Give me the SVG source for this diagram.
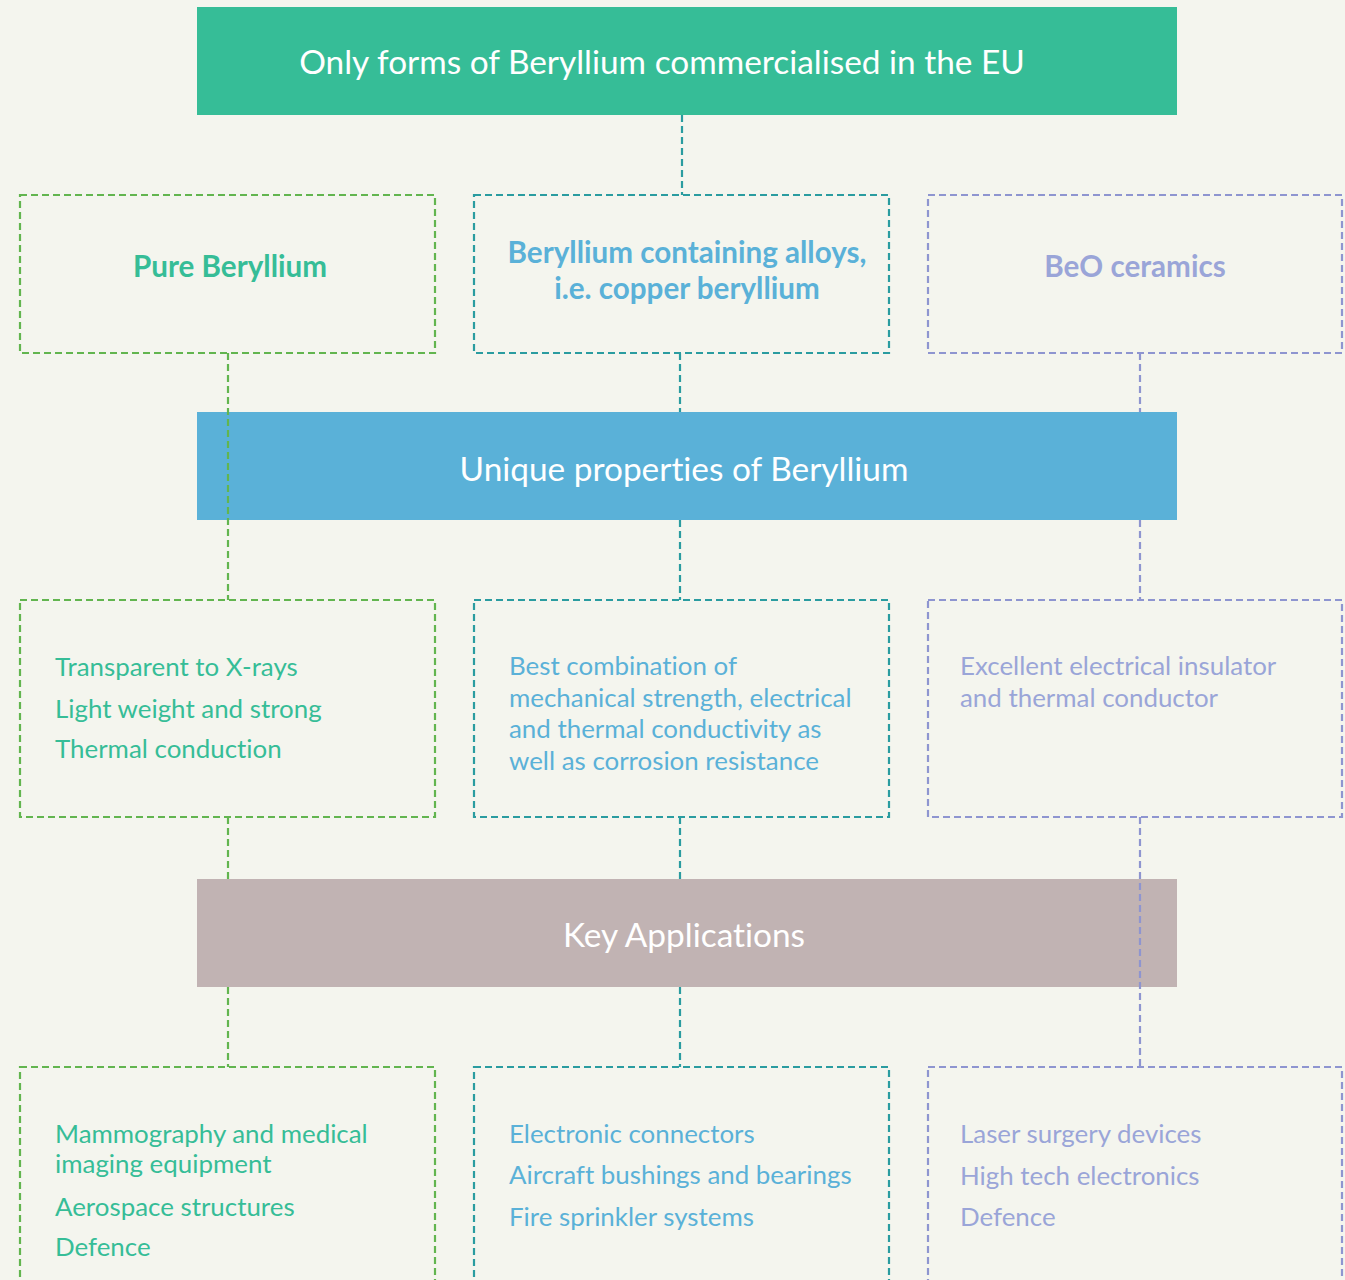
<svg xmlns="http://www.w3.org/2000/svg" width="1345" height="1280" viewBox="0 0 1345 1280">
<style>
.bg{fill:#f4f5ee}
.box{fill:none;stroke-width:2.2;stroke-dasharray:7 4}
.g{stroke:#62b54f}
.t{stroke:#2a9ca0}
.p{stroke:#8e95d0}
text{font-variant-ligatures:none}
.ban{font-family:Lato,"Open Sans",sans-serif;font-size:33.4px;fill:#ffffff;text-anchor:middle}
.hd{font-family:Lato,"Open Sans",sans-serif;font-size:29.6px;font-weight:bold;text-anchor:middle}
.tx{font-family:Lato,"Open Sans",sans-serif;font-size:25.9px}
.cg{fill:#36bd97}
.cb{fill:#5ab1d8}
.cp{fill:#9aa5d8}
.ln{fill:none;stroke-width:2.2;stroke-dasharray:7 4}
</style>
<rect class="bg" x="0" y="0" width="1345" height="1280"/>

<g id="banner-forms">
<rect x="197" y="7" width="980" height="108" fill="#36bd97"/>
<text class="ban" x="662" y="74">Only forms of Beryllium commercialised in the EU</text>
</g>
<g id="banner-properties">
<rect x="197" y="412" width="980" height="108" fill="#5ab1d8"/>
<text class="ban" x="684" y="481">Unique properties of Beryllium</text>
</g>
<g id="banner-applications">
<rect x="197" y="879" width="980" height="108" fill="#c1b3b3"/>
<text class="ban" x="684" y="947">Key Applications</text>
</g>

<g id="connectors">
<line class="ln t" x1="682" y1="115" x2="682" y2="195"/>
<line class="ln g" x1="228" y1="353" x2="228" y2="600"/>
<line class="ln t" x1="680" y1="353" x2="680" y2="412"/>
<line class="ln t" x1="680" y1="520" x2="680" y2="600"/>
<line class="ln p" x1="1140" y1="353" x2="1140" y2="412"/>
<line class="ln p" x1="1140" y1="520" x2="1140" y2="600"/>
<line class="ln g" x1="228" y1="817" x2="228" y2="879"/>
<line class="ln g" x1="228" y1="987" x2="228" y2="1067"/>
<line class="ln t" x1="680" y1="817" x2="680" y2="879"/>
<line class="ln t" x1="680" y1="987" x2="680" y2="1067"/>
<line class="ln p" x1="1140" y1="817" x2="1140" y2="1067"/>
</g>

<g id="pure-beryllium">
<rect class="box g" x="20" y="195" width="415" height="158"/>
<text class="hd cg" x="230" y="277">Pure Beryllium</text>
</g>
<g id="alloys">
<rect class="box t" x="474" y="195" width="415" height="158"/>
<text class="hd cb" x="687" y="263">Beryllium containing alloys,</text>
<text class="hd cb" x="687" y="299">i.e. copper beryllium</text>
</g>
<g id="beo">
<rect class="box p" x="928" y="195" width="414" height="158"/>
<text class="hd cp" x="1135" y="277">BeO ceramics</text>
</g>

<g id="props-pure">
<rect class="box g" x="20" y="600" width="415" height="217"/>
<text class="tx cg" x="55" y="676">Transparent to X-rays</text>
<text class="tx cg" x="55" y="718">Light weight and strong</text>
<text class="tx cg" x="55" y="758">Thermal conduction</text>
</g>
<g id="props-alloys">
<rect class="box t" x="474" y="600" width="415" height="217"/>
<text class="tx cb" x="509" y="675">Best combination of</text>
<text class="tx cb" x="509" y="707">mechanical strength, electrical</text>
<text class="tx cb" x="509" y="738">and thermal conductivity as</text>
<text class="tx cb" x="509" y="770">well as corrosion resistance</text>
</g>
<g id="props-beo">
<rect class="box p" x="928" y="600" width="414" height="217"/>
<text class="tx cp" x="960" y="675">Excellent electrical insulator</text>
<text class="tx cp" x="960" y="707">and thermal conductor</text>
</g>

<g id="apps-pure">
<rect class="box g" x="20" y="1067" width="415" height="240"/>
<text class="tx cg" x="55" y="1143">Mammography and medical</text>
<text class="tx cg" x="55" y="1173">imaging equipment</text>
<text class="tx cg" x="55" y="1216">Aerospace structures</text>
<text class="tx cg" x="55" y="1256">Defence</text>
</g>
<g id="apps-alloys">
<rect class="box t" x="474" y="1067" width="415" height="240"/>
<text class="tx cb" x="509" y="1143">Electronic connectors</text>
<text class="tx cb" x="509" y="1184">Aircraft bushings and bearings</text>
<text class="tx cb" x="509" y="1226">Fire sprinkler systems</text>
</g>
<g id="apps-beo">
<rect class="box p" x="928" y="1067" width="414" height="240"/>
<text class="tx cp" x="960" y="1143">Laser surgery devices</text>
<text class="tx cp" x="960" y="1185">High tech electronics</text>
<text class="tx cp" x="960" y="1226">Defence</text>
</g>
</svg>
